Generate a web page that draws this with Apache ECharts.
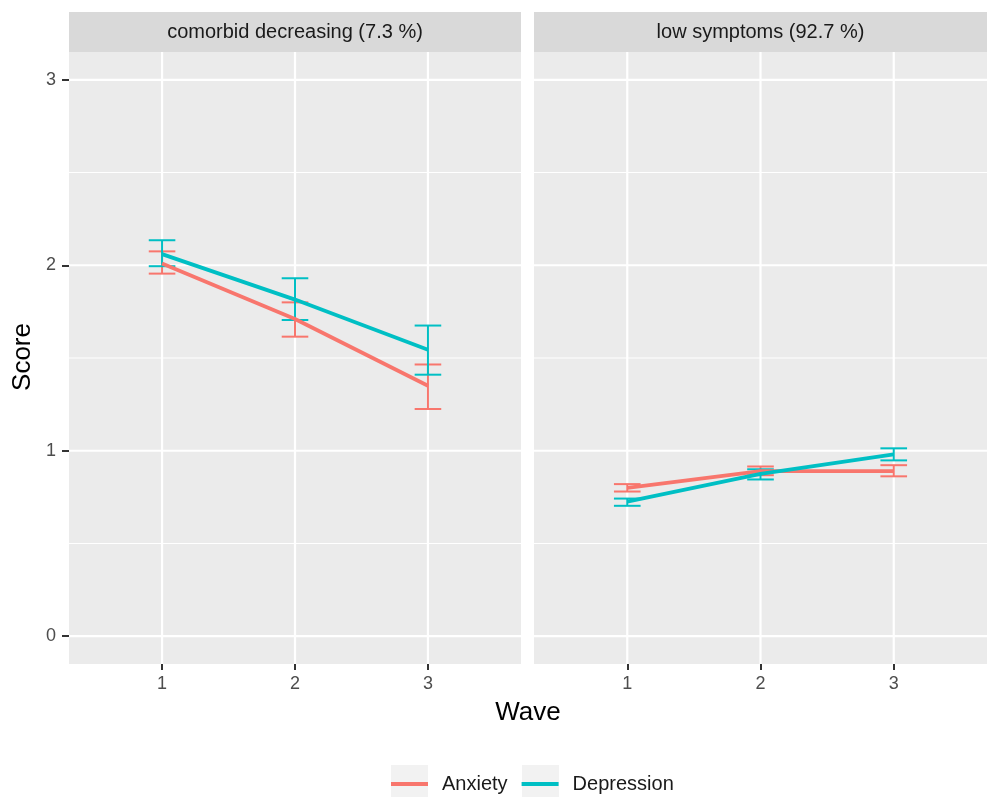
<!DOCTYPE html>
<html>
<head>
<meta charset="utf-8">
<script src="https://cdn.jsdelivr.net/npm/echarts@6/dist/echarts.min.js"></script>
<style>html,body{margin:0;padding:0;background:#fff}#c{width:987px;height:797px}</style>
</head>
<body>
<div id="c"></div>
<script>
var waves = [1, 2, 3];
var panelTitles = ['comorbid decreasing (7.3 %)', 'low symptoms (92.7 %)'];
var seriesNames = ['Anxiety', 'Depression'];
var xTicks = [1, 2, 3];
var yTicks = [0, 1, 2, 3];
var yMinor = [0.5, 1.5, 2.5];

// panel 1: comorbid decreasing
var anxComorbid   = [2.01, 1.71, 1.35];
var anxComorbidLo = [1.955, 1.615, 1.225];
var anxComorbidHi = [2.075, 1.80, 1.465];
var depComorbid   = [2.06, 1.815, 1.545];
var depComorbidLo = [1.995, 1.705, 1.41];
var depComorbidHi = [2.135, 1.93, 1.675];
// panel 2: low symptoms
var anxLow   = [0.80, 0.89, 0.89];
var anxLowLo = [0.78, 0.868, 0.862];
var anxLowHi = [0.82, 0.915, 0.922];
var depLow   = [0.725, 0.875, 0.98];
var depLowLo = [0.703, 0.845, 0.948];
var depLowHi = [0.742, 0.90, 1.013];

var colors = { Anxiety: '#F8766D', Depression: '#00BFC4' };
var FONT = 'Liberation Sans, Arial, sans-serif';

function pts(vals) { return waves.map(function (w, i) { return [w, vals[i]]; }); }
function ebData(lo, hi) { return waves.map(function (w, i) { return [w, lo[i], hi[i]]; }); }

function gridSeries(idx) {
  var data = [];
  yMinor.forEach(function (v) { data.push(['h', v, 1.1]); });
  yTicks.forEach(function (v) { data.push(['h', v, 2.2]); });
  xTicks.forEach(function (v) { data.push(['v', v, 2.2]); });
  return {
    type: 'custom', xAxisIndex: idx, yAxisIndex: idx, silent: true, z: 0,
    data: data.map(function (d, i) { return [i]; }),
    renderItem: function (params, api) {
      var d = data[params.dataIndex];
      var cs = params.coordSys;
      var shape;
      if (d[0] === 'h') {
        var y = api.coord([1, d[1]])[1];
        shape = { x1: cs.x, y1: y, x2: cs.x + cs.width, y2: y };
      } else {
        var x = api.coord([d[1], 0])[0];
        shape = { x1: x, y1: cs.y, x2: x, y2: cs.y + cs.height };
      }
      return { type: 'line', shape: shape, style: { stroke: '#FFFFFF', lineWidth: d[2] } };
    }
  };
}

function errSeries(name, idx, lo, hi) {
  return {
    type: 'custom', name: name, xAxisIndex: idx, yAxisIndex: idx, z: 3,
    data: ebData(lo, hi),
    itemStyle: { color: colors[name] },
    renderItem: function (params, api) {
      var x = api.value(0);
      var pLo = api.coord([x, api.value(1)]);
      var pHi = api.coord([x, api.value(2)]);
      var half = (api.coord([x + 0.1, 0])[0] - api.coord([x, 0])[0]);
      var st = { stroke: colors[name], lineWidth: 2 };
      return {
        type: 'group', children: [
          { type: 'line', shape: { x1: pLo[0], y1: pLo[1], x2: pHi[0], y2: pHi[1] }, style: st },
          { type: 'line', shape: { x1: pLo[0] - half, y1: pLo[1], x2: pLo[0] + half, y2: pLo[1] }, style: st },
          { type: 'line', shape: { x1: pHi[0] - half, y1: pHi[1], x2: pHi[0] + half, y2: pHi[1] }, style: st }
        ]
      };
    }
  };
}

function lineSeries(name, idx, vals) {
  return {
    type: 'line', name: name, xAxisIndex: idx, yAxisIndex: idx, z: 4,
    data: pts(vals), showSymbol: false, symbol: 'none',
    lineStyle: { color: colors[name], width: 3.8 },
    itemStyle: { color: colors[name] }
  };
}

function xAxis(idx) {
  return {
    type: 'value', gridIndex: idx, min: 0.3, max: 3.7,
    axisLine: { show: false, onZero: false },
    splitLine: { show: false },
    axisTick: { show: true, length: 6, customValues: xTicks, lineStyle: { color: '#333333', width: 2 } },
    axisLabel: { customValues: xTicks, color: '#4D4D4D', fontSize: 18, fontFamily: FONT, margin: 11 }
  };
}
function yAxis(idx) {
  return {
    type: 'value', gridIndex: idx, min: -0.15, max: 3.15,
    axisLine: { show: false, onZero: false },
    splitLine: { show: false },
    axisTick: { show: idx === 0, length: 7, customValues: yTicks, lineStyle: { color: '#333333', width: 2 } },
    axisLabel: { show: idx === 0, customValues: yTicks, color: '#4D4D4D', fontSize: 18, fontFamily: FONT, margin: 13 }
  };
}

var chart = echarts.init(document.getElementById('c'), null, { renderer: 'canvas' });
chart.setOption({
  backgroundColor: '#FFFFFF',
  animation: false,
  grid: [
    { left: 69, width: 452, top: 52, bottom: 133, show: true, backgroundColor: '#EBEBEB', borderWidth: 0 },
    { left: 534, width: 453, top: 52, bottom: 133, show: true, backgroundColor: '#EBEBEB', borderWidth: 0 }
  ],
  xAxis: [xAxis(0), xAxis(1)],
  yAxis: [yAxis(0), yAxis(1)],
  legend: {
    data: seriesNames.map(function (n) { return { name: n, icon: 'rect', itemStyle: { color: colors[n] } }; }),
    left: 391, top: 774, padding: 0, itemWidth: 37, itemHeight: 4, itemGap: 14,
    textStyle: { fontSize: 20, color: '#1A1A1A', fontFamily: FONT, padding: [0, 0, 0, 9] }
  },
  graphic: [
    { type: 'rect', shape: { x: 69, y: 12, width: 452, height: 40 }, style: { fill: '#D9D9D9' }, z: -1 },
    { type: 'rect', shape: { x: 534, y: 12, width: 453, height: 40 }, style: { fill: '#D9D9D9' }, z: -1 },
    { type: 'text', x: 295, y: 32, style: { text: panelTitles[0], fill: '#1A1A1A', font: '20px ' + FONT, align: 'center', verticalAlign: 'middle' } },
    { type: 'text', x: 760.5, y: 32, style: { text: panelTitles[1], fill: '#1A1A1A', font: '20px ' + FONT, align: 'center', verticalAlign: 'middle' } },
    { type: 'text', x: 528, y: 713, style: { text: 'Wave', fill: '#000000', font: '26px ' + FONT, align: 'center', verticalAlign: 'middle' } },
    { type: 'text', x: 23, y: 357, rotation: Math.PI / 2, style: { text: 'Score', fill: '#000000', font: '26px ' + FONT, align: 'center', verticalAlign: 'middle' } },
    { type: 'rect', shape: { x: 391, y: 765, width: 37, height: 32 }, style: { fill: '#F2F2F2' }, z: -1 },
    { type: 'rect', shape: { x: 522, y: 765, width: 37, height: 32 }, style: { fill: '#F2F2F2' }, z: -1 }
  ],
  series: [
    gridSeries(0), gridSeries(1),
    lineSeries('Anxiety', 0, anxComorbid),
    lineSeries('Depression', 0, depComorbid),
    lineSeries('Anxiety', 1, anxLow),
    lineSeries('Depression', 1, depLow),
    errSeries('Anxiety', 0, anxComorbidLo, anxComorbidHi),
    errSeries('Depression', 0, depComorbidLo, depComorbidHi),
    errSeries('Anxiety', 1, anxLowLo, anxLowHi),
    errSeries('Depression', 1, depLowLo, depLowHi)
  ]
});
</script>
</body>
</html>
